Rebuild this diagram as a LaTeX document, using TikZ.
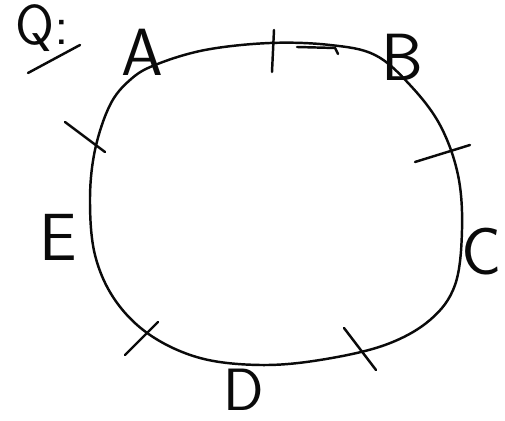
\documentclass[tikz,border=0pt]{standalone}
\usepackage{tikz}
\definecolor{inkBlack}{RGB}{10, 10, 10}
\tikzset{
  ink/.style={draw=inkBlack, line width=1.4pt, line cap=round, line join=round},
  letter/.style={inkBlack, font=\fontsize{38}{38}\sffamily, inner sep=1pt}
}
\begin{document}
\begin{tikzpicture}[x=0.02cm, y=-0.02cm]
        \useasboundingbox (0,0) rectangle (505,421);
        % closed loop
        \draw[ink] plot[smooth cycle, tension=0.6] coordinates {(155,65) (205,50) (270,43) (330,45) (375,55) (410,85) (440,125) (458,175) (462,230) (455,285) (430,320) (385,345) (320,360) (260,365) (200,358) (150,335) (115,300) (95,255) (90,200) (95,150) (110,105) (130,80)};
        % tick marks
        \draw[ink] (274,30) -- (272,72);
        \draw[ink] (297,47) -- (335,48) -- (338,54);
        \draw[ink] (65,122) -- (105,152);
        \draw[ink] (415,162) -- (470,145);
        \draw[ink] (125,355) -- (158,322);
        \draw[ink] (344,328) -- (376,370);
        % labels
        \node[letter] (labA) at (142,52) {A};
        \node[letter] (labB) at (402,57) {B};
        \node[letter] (labC) at (482,252) {C};
        \node[letter, font=\fontsize{34}{34}\sffamily] (labD) at (244,390) {D};
        \node[letter] (labE) at (58,237) {E};
        \node[letter, font=\fontsize{32}{32}\sffamily] (labQ) at (42,28) {Q:};
        \draw[ink] (28,73) -- (80,45);
      \end{tikzpicture}
\end{document}
